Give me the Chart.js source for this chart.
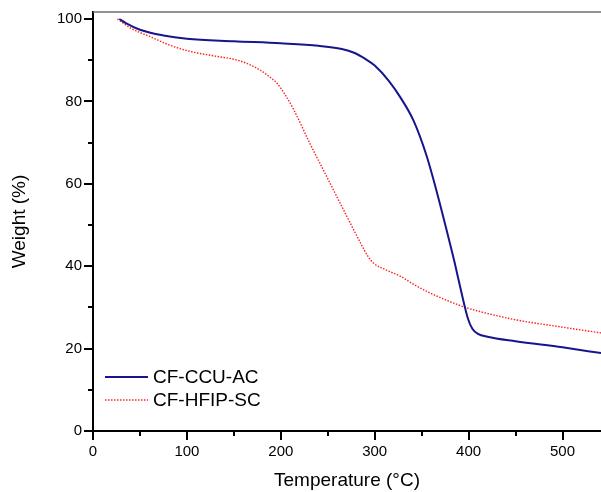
<!DOCTYPE html>
<html>
<head>
<meta charset="utf-8">
<script src="https://cdn.jsdelivr.net/npm/chart.js@4"></script>
<style>
  html, body { margin: 0; padding: 0; background: #fff; }
  #wrap { width: 601px; height: 492px; }
</style>
</head>
<body>
<div id="wrap"><canvas id="tgaChart"></canvas></div>
<script>
// CF-CCU-AC (solid blue)
const ccuTemp   = [28, 35, 50, 75, 100, 150, 200, 240, 265, 278, 290, 300, 315, 327, 341, 355, 365, 375, 385, 393, 399, 404, 410, 420, 450, 500, 541];
const ccuWeight = [100, 99.0, 97.4, 96.0, 95.2, 94.6, 94.1, 93.5, 92.7, 91.8, 90.3, 88.7, 85.0, 81.1, 75.5, 67.0, 59.0, 50.2, 41.0, 33.0, 27.5, 24.8, 23.6, 22.9, 21.8, 20.3, 18.9];

// CF-HFIP-SC (dotted red)
const hfipTemp   = [26, 40, 61, 80, 104, 130, 157, 178, 190, 196, 205, 214, 231, 249, 267, 285, 293, 299, 313, 327, 343, 359, 394, 412, 450, 500, 541];
const hfipWeight = [100, 97.8, 95.7, 93.8, 92.1, 91.0, 89.8, 87.6, 85.6, 84.4, 81.5, 77.9, 69.8, 61.7, 53.6, 45.6, 42.3, 40.7, 39.0, 37.6, 35.4, 33.5, 30.2, 29.0, 27.0, 25.2, 23.8];

const seriesNames = ['CF-CCU-AC', 'CF-HFIP-SC'];
const xTicks = [0, 100, 200, 300, 400, 500];
const yTicks = [0, 20, 40, 60, 80, 100];

const toPoints = (xs, ys) => xs.map((x, i) => ({ x: x, y: ys[i] }));

// outward major/minor ticks, top frame line and the inset legend
const frameAndLegend = {
    id: 'frameAndLegend',
    afterDraw(chart) {
        const ctx = chart.ctx;
        const area = chart.chartArea;
        const xs = chart.scales.x;
        const ys = chart.scales.y;
        ctx.save();
        ctx.strokeStyle = '#000';
        ctx.lineWidth = 2;
        for (let v = 0; v <= xs.max; v += 50) {
            const px = Math.round(xs.getPixelForValue(v));
            const len = v % 100 === 0 ? 9 : 5;
            ctx.beginPath();
            ctx.moveTo(px, area.bottom);
            ctx.lineTo(px, area.bottom + len);
            ctx.stroke();
        }
        for (let v = 0; v <= 100; v += 10) {
            const py = Math.round(ys.getPixelForValue(v));
            const len = v % 20 === 0 ? 9 : 5;
            ctx.beginPath();
            ctx.moveTo(area.left - len, py);
            ctx.lineTo(area.left, py);
            ctx.stroke();
        }
        // top frame
        ctx.strokeStyle = '#6e6e6e';
        ctx.lineWidth = 1.5;
        ctx.beginPath();
        ctx.moveTo(area.left, area.top);
        ctx.lineTo(area.right, area.top);
        ctx.stroke();

        // legend
        const rows = [377, 400];
        chart.data.datasets.forEach((ds, i) => {
            ctx.strokeStyle = ds.borderColor;
            ctx.lineWidth = ds.borderWidth;
            ctx.setLineDash(ds.borderDash || []);
            ctx.beginPath();
            ctx.moveTo(105, rows[i]);
            ctx.lineTo(148, rows[i]);
            ctx.stroke();
            ctx.setLineDash([]);
            ctx.fillStyle = '#000';
            ctx.font = '19px "Liberation Sans", Arial, sans-serif';
            ctx.textBaseline = 'middle';
            ctx.textAlign = 'left';
            ctx.fillText(ds.label, 153, rows[i] + 1);
        });
        ctx.restore();
    }
};

const ctxTga = document.getElementById('tgaChart').getContext('2d');
const tgaChart = new Chart(ctxTga, {
    type: 'line',
    data: {
        datasets: [{
            label: seriesNames[0],
            data: toPoints(ccuTemp, ccuWeight),
            borderColor: '#16168c',
            borderWidth: 2,
            pointRadius: 0,
            cubicInterpolationMode: 'monotone'
        }, {
            label: seriesNames[1],
            data: toPoints(hfipTemp, hfipWeight),
            borderColor: '#ff2020',
            borderWidth: 1.4,
            borderDash: [1.5, 1.5],
            pointRadius: 0,
            cubicInterpolationMode: 'monotone'
        }]
    },
    options: {
        responsive: true,
        maintainAspectRatio: false,
        animation: false,
        layout: { padding: { left: 0, right: 0, top: 12, bottom: 0 } },
        plugins: {
            legend: { display: false },
            tooltip: { enabled: false }
        },
        scales: {
            x: {
                type: 'linear',
                min: 0,
                max: 541,
                afterFit: (scale) => { scale.height = 61; },
                afterBuildTicks: (scale) => { scale.ticks = xTicks.map(v => ({ value: v })); },
                grid: { display: false, drawTicks: false },
                border: { display: true, color: '#000', width: 2 },
                ticks: {
                    padding: 12,
                    color: '#000',
                    font: { family: '"Liberation Sans", Arial, sans-serif', size: 15 },
                    maxRotation: 0
                },
                title: {
                    display: true,
                    text: 'Temperature (°C)',
                    color: '#000',
                    padding: { top: 0, bottom: 0 },
                    font: { family: '"Liberation Sans", Arial, sans-serif', size: 19 }
                }
            },
            y: {
                min: 0,
                max: 101.7,
                afterFit: (scale) => {
                    scale.width = 93;
                    scale.paddingTop = 0;
                    scale.paddingBottom = 0;
                },
                afterBuildTicks: (scale) => { scale.ticks = yTicks.map(v => ({ value: v })); },
                grid: { display: false, drawTicks: false },
                border: { display: true, color: '#000', width: 2 },
                ticks: {
                    padding: 11,
                    color: '#000',
                    font: { family: '"Liberation Sans", Arial, sans-serif', size: 15 }
                },
                title: {
                    display: true,
                    text: 'Weight (%)',
                    color: '#000',
                    padding: { top: 8, bottom: 0 },
                    font: { family: '"Liberation Sans", Arial, sans-serif', size: 19 }
                }
            }
        }
    },
    plugins: [frameAndLegend]
});
</script>
</body>
</html>
